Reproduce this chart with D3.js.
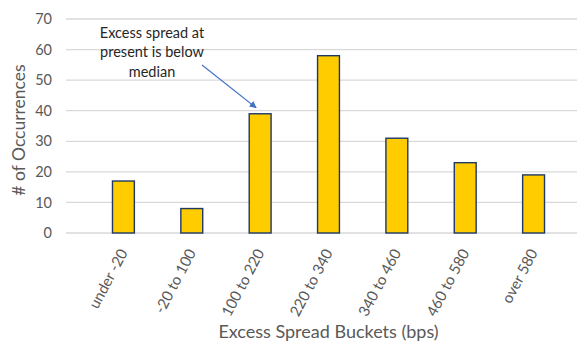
<!DOCTYPE html>
<head>
  <meta charset="utf-8">
  <script src="https://d3js.org/d3.v7.min.js"></script>
  <style>
    body { margin: 0; background: #fff; }
    text { font-family: Lato, "Open Sans", sans-serif; }
  </style>
</head>
<body>
<svg width="577" height="343"></svg>
<script>

// Data
var buckets = ["under -20", "-20 to 100", "100 to 220", "220 to 340", "340 to 460", "460 to 580", "over 580"];
var counts = [17, 8, 39, 58, 31, 23, 19];
var yTicks = [0, 10, 20, 30, 40, 50, 60, 70];
var noteLines = ["Excess spread at", "present is below", "median"];
var noteBucket = "100 to 220";

var svg = d3.select("svg");
// plot edges (note: "top" would clash with window.top)
var plotLeft = 66, plotRight = 591, plotTop = 19, plotBottom = 233;

var x = d3.scaleBand().domain(buckets).range([plotLeft, plotRight]).padding(0.68);
var y = d3.scaleLinear().domain([0, 70]).range([plotBottom, plotTop]);

// gridlines
svg.append("g").selectAll("line").data(yTicks).join("line")
  .attr("x1", plotLeft).attr("x2", 577)
  .attr("y1", function(d) { return y(d); }).attr("y2", function(d) { return y(d); })
  .attr("stroke", "#d9d9d9").attr("stroke-width", 1.3);

// y axis labels
var yAxis = svg.append("g").attr("transform", "translate(" + (plotLeft - 14) + ",0)")
  .call(d3.axisLeft(y).tickValues(yTicks).tickSize(0).tickPadding(0));
yAxis.select(".domain").remove();
yAxis.selectAll("text").attr("font-size", 14.5).attr("fill", "#595959")
  .style("font-family", "Lato, sans-serif");

// bars
svg.append("g").selectAll("rect").data(counts).join("rect")
  .attr("x", function(d, i) { return x(buckets[i]); })
  .attr("y", function(d) { return y(d); })
  .attr("width", x.bandwidth())
  .attr("height", function(d) { return y(0) - y(d); })
  .attr("fill", "#ffcc00")
  .attr("stroke", "#1f3864").attr("stroke-width", 1.4);

// x axis labels, rotated
var xAxis = svg.append("g").attr("transform", "translate(0," + (plotBottom + 17) + ")")
  .call(d3.axisBottom(x).tickSize(0).tickPadding(0));
xAxis.select(".domain").remove();
xAxis.selectAll("text")
  .attr("font-size", 15).attr("fill", "#595959")
  .style("font-family", "Lato, sans-serif")
  .attr("text-anchor", "end")
  .attr("y", 0).attr("dy", "0.35em")
  .attr("transform", "rotate(-62)");

// axis titles
svg.append("text").attr("x", (plotLeft + plotRight) / 2).attr("y", 338).attr("text-anchor", "middle")
  .attr("font-size", 18).attr("fill", "#595959").text("Excess Spread Buckets (bps)");
svg.append("text").attr("transform", "translate(25,130) rotate(-90)").attr("text-anchor", "middle")
  .attr("font-size", 17.5).attr("fill", "#595959").text("# of Occurrences");

// annotation
var note = svg.append("text").attr("text-anchor", "middle").attr("font-size", 14.5).attr("fill", "#262626");
note.selectAll("tspan").data(noteLines).join("tspan")
  .attr("x", 152).attr("y", function(d, i) { return 37.5 + i * 19.5; })
  .text(function(d) { return d; });

svg.append("defs").append("marker").attr("id", "head")
  .attr("viewBox", "0 0 10 10").attr("refX", 9).attr("refY", 5)
  .attr("markerWidth", 6).attr("markerHeight", 6).attr("orient", "auto")
  .append("path").attr("d", "M0,0 L10,5 L0,10 z").attr("fill", "#4472c4");

var bi = buckets.indexOf(noteBucket);
svg.append("line")
  .attr("x1", 202).attr("y1", 65)
  .attr("x2", x(noteBucket) + x.bandwidth() / 2 - 4).attr("y2", y(counts[bi]) - 6)
  .attr("stroke", "#4472c4").attr("stroke-width", 1.2)
  .attr("marker-end", "url(#head)");

</script>
</body>
</html>
